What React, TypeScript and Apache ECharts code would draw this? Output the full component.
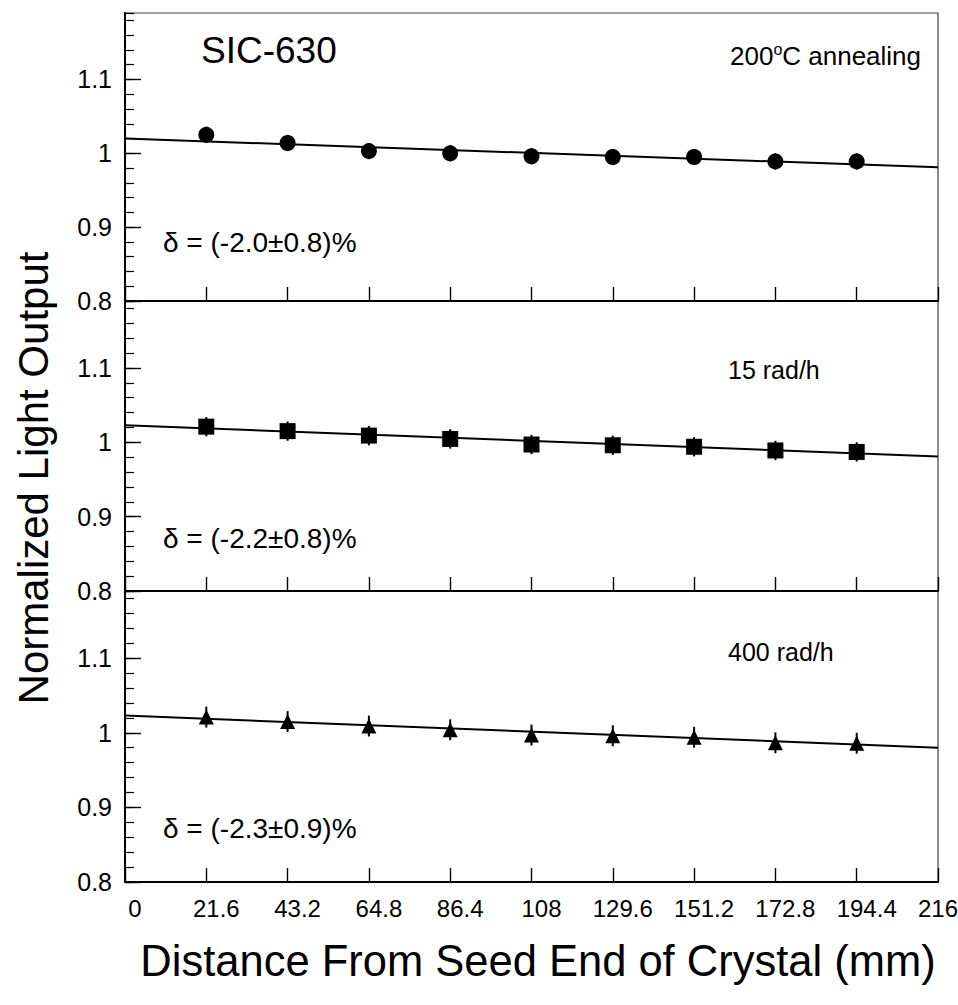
import React, { useEffect, useRef } from "react";
import * as echarts from "echarts";

const xPositions = [21.6, 43.2, 64.8, 86.4, 108, 129.6, 151.2, 172.8, 194.4];
const xTickLabels = ["0", "21.6", "43.2", "64.8", "86.4", "108", "129.6", "151.2", "172.8", "194.4", "216"];

const annealValues = [1.025, 1.014, 1.003, 1.0, 0.996, 0.995, 0.995, 0.989, 0.989];
const annealErrors = [0.011, 0.011, 0.011, 0.011, 0.011, 0.011, 0.011, 0.011, 0.011];
const annealFit = [1.02, 0.981];

const rad15Values = [1.021, 1.015, 1.009, 1.0045, 0.997, 0.996, 0.994, 0.989, 0.987];
const rad15Errors = [0.013, 0.013, 0.013, 0.013, 0.013, 0.013, 0.013, 0.013, 0.013];
const rad15Fit = [1.023, 0.981];

const rad400Values = [1.021, 1.015, 1.009, 1.004, 0.997, 0.996, 0.994, 0.9865, 0.986];
const rad400Errors = [0.014, 0.014, 0.014, 0.014, 0.014, 0.014, 0.014, 0.014, 0.014];
const rad400Fit = [1.023, 0.98];

const panelLabels = ["200", "15 rad/h", "400 rad/h"];
const deltaLabels = ["δ = (-2.0±0.8)%", "δ = (-2.2±0.8)%", "δ = (-2.3±0.9)%"];

const FONT = "'Liberation Sans', Arial, Helvetica, sans-serif";
const X_MIN = 0;
const X_MAX = 216;
const Y_MIN = 0.8;
const Y_MAX = 1.19;

export default function App() {
  const ref = useRef<HTMLDivElement>(null);

  useEffect(() => {
    if (!ref.current) return;
    const chart = echarts.init(ref.current, null, { renderer: "svg" });

    const grids = [
      { left: 125, right: 20, top: 13, height: 288 },
      { left: 125, right: 20, top: 301, height: 290 },
      { left: 125, right: 20, top: 591, height: 291 },
    ].map((g) => ({
      ...g,
      show: true,
      containLabel: false,
      outerBoundsMode: "none",
      borderColor: "#444",
      borderWidth: 1.2,
      backgroundColor: "transparent",
    }));

    const xAxes = [0, 1, 2].map((i) => ({
      type: "value",
      gridIndex: i,
      min: X_MIN,
      max: X_MAX,
      interval: 21.6,
      axisLine: { show: true, lineStyle: { color: "#000", width: 2.2 } },
      axisTick: { show: true, inside: true, length: 14, lineStyle: { color: "#000", width: 1.4 } },
      splitLine: { show: false },
      axisLabel: {
        show: i === 2,
        fontFamily: FONT,
        fontSize: 24,
        color: "#000",
        margin: 14,
        formatter: (v: number) => {
          const idx = Math.round(v / 21.6);
          const t = xTickLabels[idx] ?? "";
          if (idx === xTickLabels.length - 1) return `{e|${t}}`;
          return `{n|${t}}`;
        },
        rich: {
          n: { fontFamily: FONT, fontSize: 24, color: "#000", padding: [0, 0, 0, 20] },
          e: { fontFamily: FONT, fontSize: 24, color: "#000", padding: [0, 0, 0, 0] },
        },
      },
    }));

    const yLabelFmt = (v: number) => {
      if (Math.abs(v * 10 - Math.round(v * 10)) > 1e-6) return "";
      return String(+v.toFixed(1));
    };

    const yAxes: any[] = [];
    [0, 1, 2].forEach((i) => {
      yAxes.push({
        type: "value",
        gridIndex: i,
        position: "left",
        min: Y_MIN,
        max: Y_MAX,
        interval: 0.1,
        axisLine: { show: true, lineStyle: { color: "#000", width: 2 } },
        axisTick: { show: true, inside: true, length: 16, lineStyle: { color: "#000", width: 1.4 } },
        splitLine: { show: false },
        axisLabel: {
          show: true,
          showMaxLabel: false,
          fontFamily: FONT,
          fontSize: 25,
          color: "#000",
          margin: 13,
          formatter: yLabelFmt,
        },
      });
    });
    [0, 1, 2].forEach((i) => {
      yAxes.push({
        type: "value",
        gridIndex: i,
        position: "left",
        min: Y_MIN,
        max: Y_MAX,
        interval: 0.02,
        axisLine: { show: false },
        axisTick: { show: true, inside: true, length: 9, lineStyle: { color: "#000", width: 1.2 } },
        splitLine: { show: false },
        axisLabel: { show: false },
      });
    });

    const panels = [
      { values: annealValues, errors: annealErrors, fit: annealFit, symbol: "circle", size: 16 },
      { values: rad15Values, errors: rad15Errors, fit: rad15Fit, symbol: "rect", size: 16 },
      { values: rad400Values, errors: rad400Errors, fit: rad400Fit, symbol: "triangle", size: 15 },
    ];

    const series: any[] = [];
    panels.forEach((p, i) => {
      series.push({
        type: "line",
        xAxisIndex: i,
        yAxisIndex: i,
        data: [
          [X_MIN, p.fit[0]],
          [X_MAX, p.fit[1]],
        ],
        showSymbol: false,
        symbol: "none",
        lineStyle: { color: "#000", width: 2 },
        z: 2,
      });
      series.push({
        type: "custom",
        xAxisIndex: i,
        yAxisIndex: i,
        data: xPositions.map((x, k) => [x, p.values[k], p.errors[k]]),
        encode: { x: 0, y: 1 },
        renderItem: (params: any, api: any) => {
          const x = api.value(0);
          const y = api.value(1);
          const e = api.value(2);
          const a = api.coord([x, y + e]);
          const b = api.coord([x, y - e]);
          return {
            type: "line",
            shape: { x1: a[0], y1: a[1], x2: b[0], y2: b[1] },
            style: { stroke: "#000", lineWidth: 2 },
          };
        },
        z: 3,
      });
      series.push({
        type: "scatter",
        xAxisIndex: i,
        yAxisIndex: i,
        data: xPositions.map((x, k) => [x, p.values[k]]),
        symbol: p.symbol,
        symbolSize: p.size,
        itemStyle: { color: "#000", opacity: 1 },
        z: 4,
      });
    });

    const graphic: any[] = [
      {
        type: "text",
        left: 201,
        top: 52 - 20,
        style: { text: "SIC-630", font: `37px ${FONT}`, fill: "#000" },
      },
      {
        type: "text",
        x: 730,
        y: 56,
        style: {
          text: "{n|200}{s|o}{n|C annealing}",
          fill: "#000",
          verticalAlign: "middle",
          rich: {
            n: { fontFamily: FONT, fontSize: 26, fill: "#000" },
            s: { fontFamily: FONT, fontSize: 16, fill: "#000", padding: [0, 0, 14, 0] },
          },
        } as any,
      },
      {
        type: "text",
        x: 728,
        y: 370,
        style: { text: panelLabels[1], font: `25px ${FONT}`, fill: "#000", verticalAlign: "middle" },
      },
      {
        type: "text",
        x: 728,
        y: 652,
        style: { text: panelLabels[2], font: `25px ${FONT}`, fill: "#000", verticalAlign: "middle" },
      },
      {
        type: "text",
        x: 163,
        y: 242,
        style: { text: deltaLabels[0], font: `28px ${FONT}`, fill: "#000", verticalAlign: "middle" },
      },
      {
        type: "text",
        x: 163,
        y: 538,
        style: { text: deltaLabels[1], font: `28px ${FONT}`, fill: "#000", verticalAlign: "middle" },
      },
      {
        type: "text",
        x: 163,
        y: 828,
        style: { text: deltaLabels[2], font: `28px ${FONT}`, fill: "#000", verticalAlign: "middle" },
      },
      {
        type: "text",
        x: 33,
        y: 478,
        rotation: Math.PI / 2,
        style: {
          text: "Normalized Light Output",
          font: `42px ${FONT}`,
          fill: "#000",
          align: "center",
          verticalAlign: "middle",
        },
      },
      {
        type: "text",
        x: 538,
        y: 961,
        style: {
          text: "Distance From Seed End of Crystal (mm)",
          font: `43.5px ${FONT}`,
          fill: "#000",
          align: "center",
          verticalAlign: "middle",
        },
      },
    ];

    chart.setOption({
      animation: false,
      backgroundColor: "#fff",
      grid: grids,
      xAxis: xAxes,
      yAxis: yAxes,
      series,
      graphic,
    });

    return () => chart.dispose();
  }, []);

  return (
    <div
      ref={ref}
      style={{ position: "absolute", left: 0, top: 0, width: 958, height: 1005 }}
    />
  );
}
